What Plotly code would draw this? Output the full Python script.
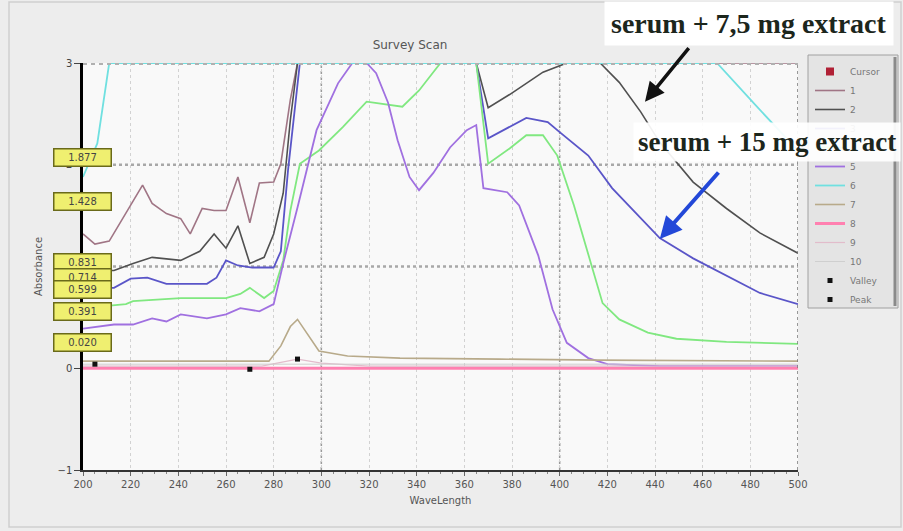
import plotly.graph_objects as go

# ---------------- data ----------------
wl_1 = [200, 205, 211, 217, 225, 229, 235, 241, 245, 250, 255, 260, 265, 270, 274, 280, 283, 287, 290, 500]
abs_1 = [1.32, 1.22, 1.25, 1.48, 1.80, 1.62, 1.52, 1.47, 1.32, 1.57, 1.55, 1.55, 1.88, 1.43, 1.82, 1.83, 2.01, 2.64, 3.0, 3.0]

wl_2 = [200, 213, 221, 229, 241, 249, 255, 260, 265, 270, 276, 280, 284, 287, 290, 365, 370, 379, 393, 403, 417, 425, 434, 442, 456, 470, 484, 500]
abs_2 = [0.96, 0.96, 1.03, 1.09, 1.06, 1.15, 1.32, 1.18, 1.40, 1.03, 1.09, 1.32, 1.72, 2.44, 3.0, 3.0, 2.56, 2.69, 2.91, 3.0, 3.0, 2.81, 2.52, 2.22, 1.83, 1.57, 1.33, 1.13]

wl_3 = [200, 213, 220, 227, 235, 241, 252, 256, 260, 265, 271, 280, 283, 286, 291, 365, 370, 386, 395, 400, 412, 422, 434, 442, 456, 470, 484, 500]
abs_3 = [0.79, 0.79, 0.88, 0.89, 0.83, 0.83, 0.83, 0.89, 1.06, 1.01, 0.99, 0.99, 1.15, 1.94, 3.0, 3.0, 2.26, 2.46, 2.42, 2.32, 2.09, 1.77, 1.47, 1.28, 1.08, 0.91, 0.74, 0.63]

wl_4 = [200, 218, 221, 241, 260, 266, 270, 276, 280, 284, 287, 291, 299, 309, 319, 329, 334, 341, 350, 365, 370, 379, 386, 393, 399, 406, 412, 418, 425, 437, 449, 470, 500]
abs_4 = [0.59, 0.63, 0.66, 0.69, 0.69, 0.73, 0.79, 0.69, 0.76, 1.06, 1.55, 2.01, 2.14, 2.37, 2.62, 2.59, 2.57, 2.73, 3.0, 3.0, 2.01, 2.16, 2.29, 2.29, 2.09, 1.60, 1.11, 0.64, 0.48, 0.35, 0.29, 0.26, 0.24]

wl_5 = [200, 213, 221, 229, 235, 241, 252, 260, 266, 274, 280, 284, 290, 298, 307, 313, 319, 323, 328, 332, 337, 341, 347, 354, 361, 365, 368, 378, 383, 391, 397, 403, 412, 420, 442, 500]
abs_5 = [0.39, 0.43, 0.43, 0.49, 0.46, 0.53, 0.49, 0.53, 0.59, 0.56, 0.63, 1.03, 1.58, 2.34, 2.80, 3.0, 3.0, 2.90, 2.61, 2.24, 1.88, 1.75, 1.92, 2.17, 2.34, 2.39, 1.77, 1.73, 1.60, 1.11, 0.58, 0.25, 0.10, 0.04, 0.02, 0.02]

wl_6 = [200, 206, 211, 466, 482, 500]
abs_6 = [1.88, 2.21, 3.0, 3.0, 2.59, 2.14]

wl_7 = [200, 278, 283, 287, 290, 293, 299, 311, 333, 375, 417, 500]
abs_7 = [0.07, 0.07, 0.22, 0.41, 0.48, 0.38, 0.17, 0.12, 0.10, 0.09, 0.08, 0.07]

wl_8 = [200, 500]
abs_8 = [0.0, 0.0]

wl_9 = [200, 275, 290, 300, 320, 500]
abs_9 = [0.02, 0.02, 0.09, 0.05, 0.02, 0.02]

wl_10 = [200, 500]
abs_10 = [0.04, 0.04]

valley_wl = [270]
valley_abs = [-0.01]
peak_wl = [205, 290]
peak_abs = [0.04, 0.09]

cursor_labels = ["1.877", "1.428", "0.831", "0.714", "0.599", "0.391", "0.020"]
x_ticks = list(range(200, 501, 20))
y_ticks = [-1, 0, 1, 2, 3]

series = [
    ("1", wl_1, abs_1, "#a07585", 1.6),
    ("2", wl_2, abs_2, "#505050", 1.6),
    ("3", wl_3, abs_3, "#5a55c8", 1.8),
    ("4", wl_4, abs_4, "#80e880", 1.8),
    ("5", wl_5, abs_5, "#a070e0", 1.8),
    ("6", wl_6, abs_6, "#70e0e0", 1.8),
    ("7", wl_7, abs_7, "#b8aa8a", 1.6),
    ("8", wl_8, abs_8, "#ff80b0", 3.0),
    ("9", wl_9, abs_9, "#e2bccb", 1.2),
    ("10", wl_10, abs_10, "#cfcfcf", 1.0),
]

# ---------------- geometry helpers (pixel -> paper) ----------------
L, R, T, B = 83, 105, 63, 61
W, H = 903, 531
PW, PH = W - L - R, H - T - B


def px(xp):
    return (xp - L) / PW


def py(yp):
    return (H - B - yp) / PH


fig = go.Figure()

fig.add_trace(go.Scatter(x=[None], y=[None], mode="markers", name="Cursor",
                         marker=dict(symbol="square", size=8, color="#b02035")))
for name, xs, ys, col, w in series:
    fig.add_trace(go.Scatter(x=xs, y=ys, mode="lines", name=name,
                             line=dict(color=col, width=w)))
fig.add_trace(go.Scatter(x=valley_wl, y=valley_abs, mode="markers", name="Valley",
                         marker=dict(symbol="square", size=5, color="#111")))
fig.add_trace(go.Scatter(x=peak_wl, y=peak_abs, mode="markers", name="Peak",
                         marker=dict(symbol="square", size=5, color="#111")))

shapes = []
# outer panel frame
shapes.append(dict(type="rect", xref="paper", yref="paper", x0=px(9), x1=px(901), y0=py(527), y1=py(2),
                   line=dict(color="#cfcfcf", width=1.5), fillcolor="rgba(0,0,0,0)", layer="below"))
# legend box
shapes.append(dict(type="rect", xref="paper", yref="paper", x0=px(808), x1=px(898), y0=py(308), y1=py(55),
                   line=dict(color="#a0a0a0", width=1), fillcolor="#e4e4e4", layer="below"))
shapes.append(dict(type="line", xref="paper", yref="paper", x0=px(895), x1=px(895), y0=py(306), y1=py(57),
                   line=dict(color="#8a8a8a", width=3), layer="below"))
for yv in [1, 2]:
    shapes.append(dict(type="line", xref="x", yref="y", x0=200, x1=500, y0=yv, y1=yv,
                       line=dict(color="#a8a8a8", width=2.5, dash="dot"), layer="below"))
shapes.append(dict(type="line", xref="x", yref="y", x0=200, x1=500, y0=3, y1=3,
                   line=dict(color="#b0b0b0", width=4, dash="dot"), layer="above"))
for xv in [300, 400]:
    shapes.append(dict(type="line", xref="x", yref="y", x0=xv, x1=xv, y0=-1, y1=3,
                       line=dict(color="#9a9a9a", width=1.5, dash="dot"), layer="below"))
shapes.append(dict(type="line", xref="x", yref="y", x0=500, x1=500, y0=-1, y1=3,
                   line=dict(color="#777777", width=1.5, dash="dot"), layer="above"))

annotations = []
label_y = [157, 201, 262, 277, 289, 311, 343]
for txt, yy in zip(cursor_labels, label_y):
    annotations.append(dict(xref="paper", yref="paper", x=px(82), y=py(yy), text=txt,
                            xanchor="center", yanchor="middle",
                            showarrow=False, width=54, height=14, bgcolor="#efef70",
                            bordercolor="#6a6a1a", borderwidth=1.5, borderpad=1,
                            font=dict(size=10, color="#444", family="DejaVu Sans")))

annotations.append(dict(xref="paper", yref="paper", x=px(749), y=py(23),
                        xanchor="center", yanchor="middle",
                        text="<b>serum + 7,5 mg extract</b>", showarrow=False,
                        bgcolor="white", borderpad=6,
                        font=dict(size=28, color="#1c261c", family="Liberation Serif")))
annotations.append(dict(xref="paper", yref="paper", x=px(767), y=py(142),
                        xanchor="center", yanchor="middle",
                        text="<b>serum + 15 mg extract</b>", showarrow=False,
                        bgcolor="rgba(255,255,255,0.92)", borderpad=4,
                        font=dict(size=27, color="#1c261c", family="Liberation Serif")))
# arrows
annotations.append(dict(xref="x", yref="y", x=435.8, y=2.62, text="", showarrow=True,
                        ax=45, ay=-55, arrowhead=2, arrowsize=1.1, arrowwidth=3.5,
                        arrowcolor="#111"))
annotations.append(dict(xref="x", yref="y", x=442.0, y=1.27, text="", showarrow=True,
                        ax=60, ay=-68, arrowhead=2, arrowsize=1.1, arrowwidth=4,
                        arrowcolor="#2348d8"))

fig.update_layout(
    width=W, height=H,
    margin=dict(l=L, r=R, t=T, b=B),
    paper_bgcolor="#ededed",
    plot_bgcolor="#f9f9f9",
    title=dict(text="Survey Scan", x=410 / W, xanchor="center", y=1 - 45 / H, yanchor="middle",
               font=dict(size=12, color="#555", family="DejaVu Sans")),
    font=dict(family="DejaVu Sans", color="#555"),
    showlegend=True,
    legend=dict(x=px(810), y=py(57), xanchor="left", yanchor="top",
                bgcolor="rgba(0,0,0,0)", borderwidth=0,
                font=dict(size=9, color="#777"), itemwidth=30, tracegroupgap=0),
    shapes=shapes,
    annotations=annotations,
)

fig.update_xaxes(range=[200, 500], tickvals=x_ticks, showgrid=True, gridcolor="#d2d2d2",
                 griddash="dot", gridwidth=1, zeroline=False,
                 showline=True, linecolor="#333", linewidth=1.5,
                 ticks="outside", ticklen=4, tickcolor="#666",
                 minor=dict(dtick=5, ticks="outside", ticklen=2, tickcolor="#888", showgrid=False),
                 tickfont=dict(size=10, color="#555"),
                 title=dict(text="WaveLength", font=dict(size=10, color="#555"), standoff=8))
fig.update_yaxes(range=[-1, 3], tickvals=y_ticks, showgrid=False, zeroline=False,
                 showline=True, linecolor="#000", linewidth=2.5,
                 ticks="outside", ticklen=6, tickcolor="#444",
                 tickfont=dict(size=10, color="#444"),
                 title=dict(text="Absorbance", font=dict(size=10, color="#555"), standoff=14))

fig.write_html("out.html", config={"displayModeBar": False},
               post_script="document.body.style.margin='0';document.body.style.overflow='hidden';")
